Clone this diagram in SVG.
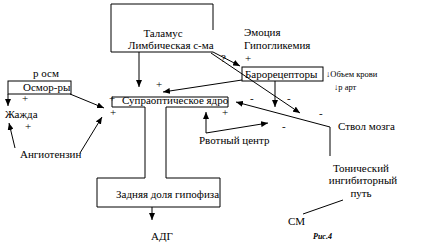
<svg xmlns="http://www.w3.org/2000/svg" width="432" height="245" viewBox="0 0 432 245">
<style>
text{font-family:"Liberation Serif","Times New Roman",serif;font-size:11px;fill:#000}
.sm{font-size:8.5px}
.b{font-size:8px;font-weight:bold;font-style:italic}
.ln{fill:none;stroke:#000;stroke-width:1}
</style>
<defs>
<marker id="ah" markerWidth="7" markerHeight="6" refX="7" refY="3" orient="auto" markerUnits="userSpaceOnUse">
<path d="M0,0 L7,3 L0,6 Z" fill="#000"/>
</marker>
</defs>
<rect width="432" height="245" fill="#fff"/>
<g id="connectors" class="ln">
<line x1="139" y1="52" x2="139" y2="87" marker-end="url(#ah)"/>
<line x1="213" y1="52" x2="240" y2="66" marker-end="url(#ah)"/>
<line x1="211" y1="53" x2="300" y2="113" marker-end="url(#ah)"/>
<line x1="242" y1="80" x2="163" y2="92" marker-end="url(#ah)"/>
<line x1="275" y1="81" x2="275" y2="107" marker-end="url(#ah)"/>
<polyline points="330,156 330,127 236,102" marker-end="url(#ah)"/>
<line x1="206" y1="133" x2="206" y2="112" marker-end="url(#ah)"/>
<line x1="206" y1="133" x2="268" y2="123" marker-end="url(#ah)"/>
<line x1="8" y1="94" x2="8" y2="106" marker-end="url(#ah)"/>
<line x1="70" y1="94" x2="104" y2="108" marker-end="url(#ah)"/>
<line x1="15" y1="148" x2="9" y2="123" marker-end="url(#ah)"/>
<line x1="80" y1="153" x2="102" y2="117" marker-end="url(#ah)"/>
<line x1="152" y1="207" x2="152" y2="220" marker-end="url(#ah)"/>
<line x1="343" y1="200" x2="303" y2="214"/>
</g>
<g id="talamus">
<path class="ln" d="M111,52 V4 H213 V30 M111,52 H213"/>
<text x="163" y="37" text-anchor="middle">Таламус</text>
<text x="128" y="49">Лимбическая с-ма</text>
</g>
<g id="emotion">
<text x="244" y="36">Эмоция</text>
<text x="244" y="49">Гипогликемия</text>
</g>
<g id="baroreceptors">
<rect class="ln" x="242" y="67" width="81" height="14"/>
<text x="245" y="78">Барорецепторы</text>
</g>
<g id="volume">
<text class="sm" x="326" y="77">↓Объем крови</text>
<text class="sm" x="334" y="90">↓р арт</text>
</g>
<g id="osmo">
<text x="33" y="77">р осм</text>
<rect class="ln" x="8" y="81" width="63" height="13"/>
<text x="23" y="91">Осмор-ры</text>
</g>
<g id="thirst"><text x="5" y="118">Жажда</text></g>
<g id="angiotensin"><text x="20" y="158">Ангиотензин</text></g>
<g id="supraoptic">
<path class="ln" d="M145,178 V107 H112 V97 H228 V107 H166 V178"/>
<text x="122" y="104">Супраоптическое ядро</text>
</g>
<g id="vomit"><text x="199" y="144">Рвотный центр</text></g>
<g id="brainstem"><text x="338" y="130">Ствол мозга</text></g>
<g id="tonic">
<text x="361" y="172" text-anchor="middle">Тонический</text>
<text x="363" y="184" text-anchor="middle">ингибиторный</text>
<text x="361" y="197" text-anchor="middle">путь</text>
</g>
<g id="pituitary">
<path class="ln" d="M145,178 H97 V207 H220 V178 H166"/>
<text x="116" y="198">Задняя доля гипофиза</text>
</g>
<g id="adh"><text x="162" y="240" text-anchor="middle">АДГ</text></g>
<g id="sm"><text x="288" y="225">СМ</text></g>
<g id="signs">
<text x="156" y="88">+</text>
<text x="221" y="62">?</text>
<text x="245" y="62">+</text>
<text x="22" y="102">+</text>
<text x="25" y="130">+</text>
<text x="109" y="102">+</text>
<text x="110" y="116">+</text>
<text x="222" y="116">+</text>
<text x="250" y="102">-</text>
<text x="287" y="102">-</text>
<text x="319" y="117">-</text>
<text x="282" y="130">-</text>
</g>
<text class="b" x="313" y="239">Рис.4</text>
</svg>
